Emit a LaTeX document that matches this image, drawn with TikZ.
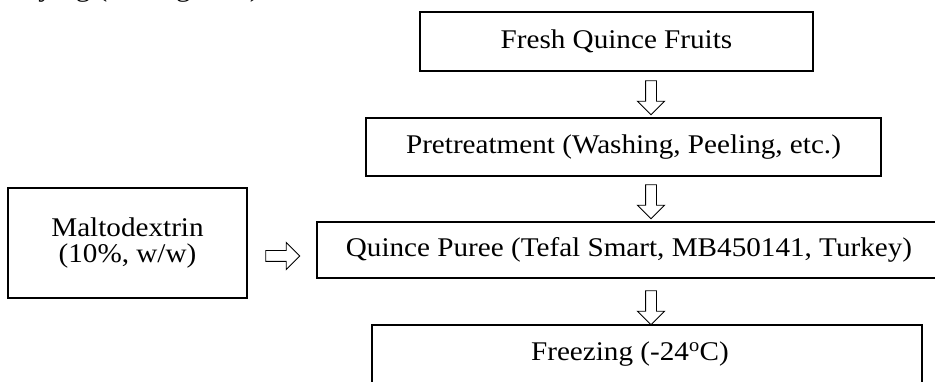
\documentclass[tikz,border=0pt]{standalone}
\usepackage{fontspec}
\setmainfont[FakeStretch=1.08]{Liberation Serif}
\usetikzlibrary{shapes.arrows}
\begin{document}
\begin{tikzpicture}[x=1pt,y=1pt,
  box/.style={draw,line width=2pt,inner sep=0pt,font=\fontsize{27}{26}\selectfont},
  hollow/.style={single arrow,draw,line width=.9pt,inner sep=5pt,
    minimum height=34pt,minimum width=26pt,single arrow head extend=8pt}]
\useasboundingbox (0,0) rectangle (935,382);
% text line above the chart, mostly off the page
\node[anchor=base west,inner sep=0pt,font=\fontsize{27}{26}\selectfont] (cap) at (14,385.5) {drying (see Figure 1)};
% process boxes
\node[box,minimum width=393pt,minimum height=59pt] (fresh) at (616.5,340.5) {Fresh Quince Fruits};
\node[box,minimum width=515pt,minimum height=58pt] (pre) at (623.5,235) {Pretreatment (Washing, Peeling, etc.)};
\node[box,minimum width=624pt,minimum height=56pt] (puree) at (629,132) {Quince Puree (Tefal Smart, MB450141, Turkey)};
\node[box,minimum width=550pt,minimum height=59pt] (freeze) at (647,27.5) {\hspace*{-34pt}Freezing (-24\textsuperscript{o}C)};
\node[box,minimum width=239pt,minimum height=110pt,align=center] (malto) at (127.5,139) {Maltodextrin\\(10\%, w/w)};
% block arrows
\node[hollow,rotate=-90] (a1) at (651,287) {};
\node[hollow,rotate=-90] (a2) at (651,183) {};
\node[hollow,rotate=-90] (a3) at (651,77) {};
\node[hollow] (a4) at (280,126) {};
\end{tikzpicture}
\end{document}
